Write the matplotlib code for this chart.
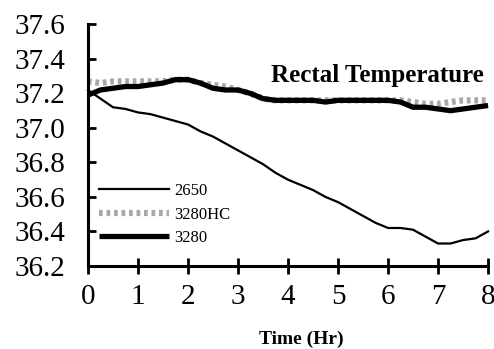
import matplotlib
matplotlib.use("Agg")
import matplotlib.pyplot as plt

# Data
hours = [0, 0.25, 0.5, 0.75, 1.0, 1.25, 1.5, 1.75, 2.0, 2.25, 2.5, 2.75, 3.0,
         3.25, 3.5, 3.75, 4.0, 4.25, 4.5, 4.75, 5.0, 5.25, 5.5, 5.75, 6.0,
         6.25, 6.5, 6.75, 7.0, 7.25, 7.5, 7.75, 8.0]

temp_2650 = [37.22, 37.17, 37.12, 37.11, 37.09, 37.08, 37.06, 37.04, 37.02,
             36.98, 36.95, 36.91, 36.87, 36.83, 36.79, 36.74, 36.70, 36.67,
             36.64, 36.60, 36.57, 36.53, 36.49, 36.45, 36.42, 36.42, 36.41,
             36.37, 36.33, 36.33, 36.35, 36.36, 36.40]

temp_3280hc = [37.27, 37.26, 37.27, 37.27, 37.27, 37.27, 37.27, 37.28, 37.28,
               37.26, 37.25, 37.24, 37.22, 37.20, 37.17, 37.16, 37.16, 37.16,
               37.16, 37.16, 37.16, 37.16, 37.16, 37.16, 37.16, 37.16, 37.15,
               37.14, 37.14, 37.15, 37.16, 37.16, 37.16]

temp_3280 = [37.19, 37.22, 37.23, 37.24, 37.24, 37.25, 37.26, 37.28, 37.28,
             37.26, 37.23, 37.22, 37.22, 37.20, 37.17, 37.16, 37.16, 37.16,
             37.16, 37.15, 37.16, 37.16, 37.16, 37.16, 37.16, 37.15, 37.12,
             37.12, 37.11, 37.10, 37.11, 37.12, 37.13]

x_ticks = [0, 1, 2, 3, 4, 5, 6, 7, 8]
y_ticks = [36.2, 36.4, 36.6, 36.8, 37.0, 37.2, 37.4, 37.6]

plt.rcParams['font.family'] = ['Liberation Serif', 'DejaVu Serif']

fig = plt.figure(figsize=(4.94, 3.49), dpi=100)
ax = fig.add_axes([0.178, 0.238, 0.81, 0.692])

ax.plot(hours, temp_3280hc, color='#a8a8a8', lw=4.5, ls=(0, (0.6, 0.6)),
        label='3280HC', clip_on=False)
ax.plot(hours, temp_3280, color='black', lw=3.8, label='3280',
        clip_on=False, solid_capstyle='butt')
ax.plot(hours, temp_2650, color='black', lw=1.6, label='2650', clip_on=False)

ax.set_xlim(0, 8)
ax.set_ylim(36.2, 37.6)
ax.set_xticks(x_ticks)
ax.set_yticks(y_ticks)
ax.set_xticklabels([str(t) for t in x_ticks])
ax.set_yticklabels([f"{v:.1f}" for v in y_ticks])

for side in ['top', 'right']:
    ax.spines[side].set_visible(False)
for side in ['left', 'bottom']:
    ax.spines[side].set_linewidth(2.2)

ax.tick_params(axis='x', direction='inout', length=12, width=2, labelsize=21, pad=7)
ax.tick_params(axis='y', direction='in', length=6, width=2, labelsize=21, pad=16)

ax.text(0.99, 0.79, "Rectal Temperature", transform=ax.transAxes,
        ha='right', va='center', fontsize=18, fontweight='bold')

handles, labels = ax.get_legend_handles_labels()
order = [2, 0, 1]
leg = ax.legend([handles[i] for i in order], [labels[i] for i in order],
                loc='upper left', bbox_to_anchor=(0.012, 0.37), frameon=False,
                fontsize=12, handlelength=4.2, handletextpad=0.3,
                labelspacing=0.45, borderaxespad=0.0)

fig.text(0.61, 0.052, "Time (Hr)", ha='center', va='top', fontsize=14,
         fontweight='bold')

fig.savefig("out.png", dpi=100)
